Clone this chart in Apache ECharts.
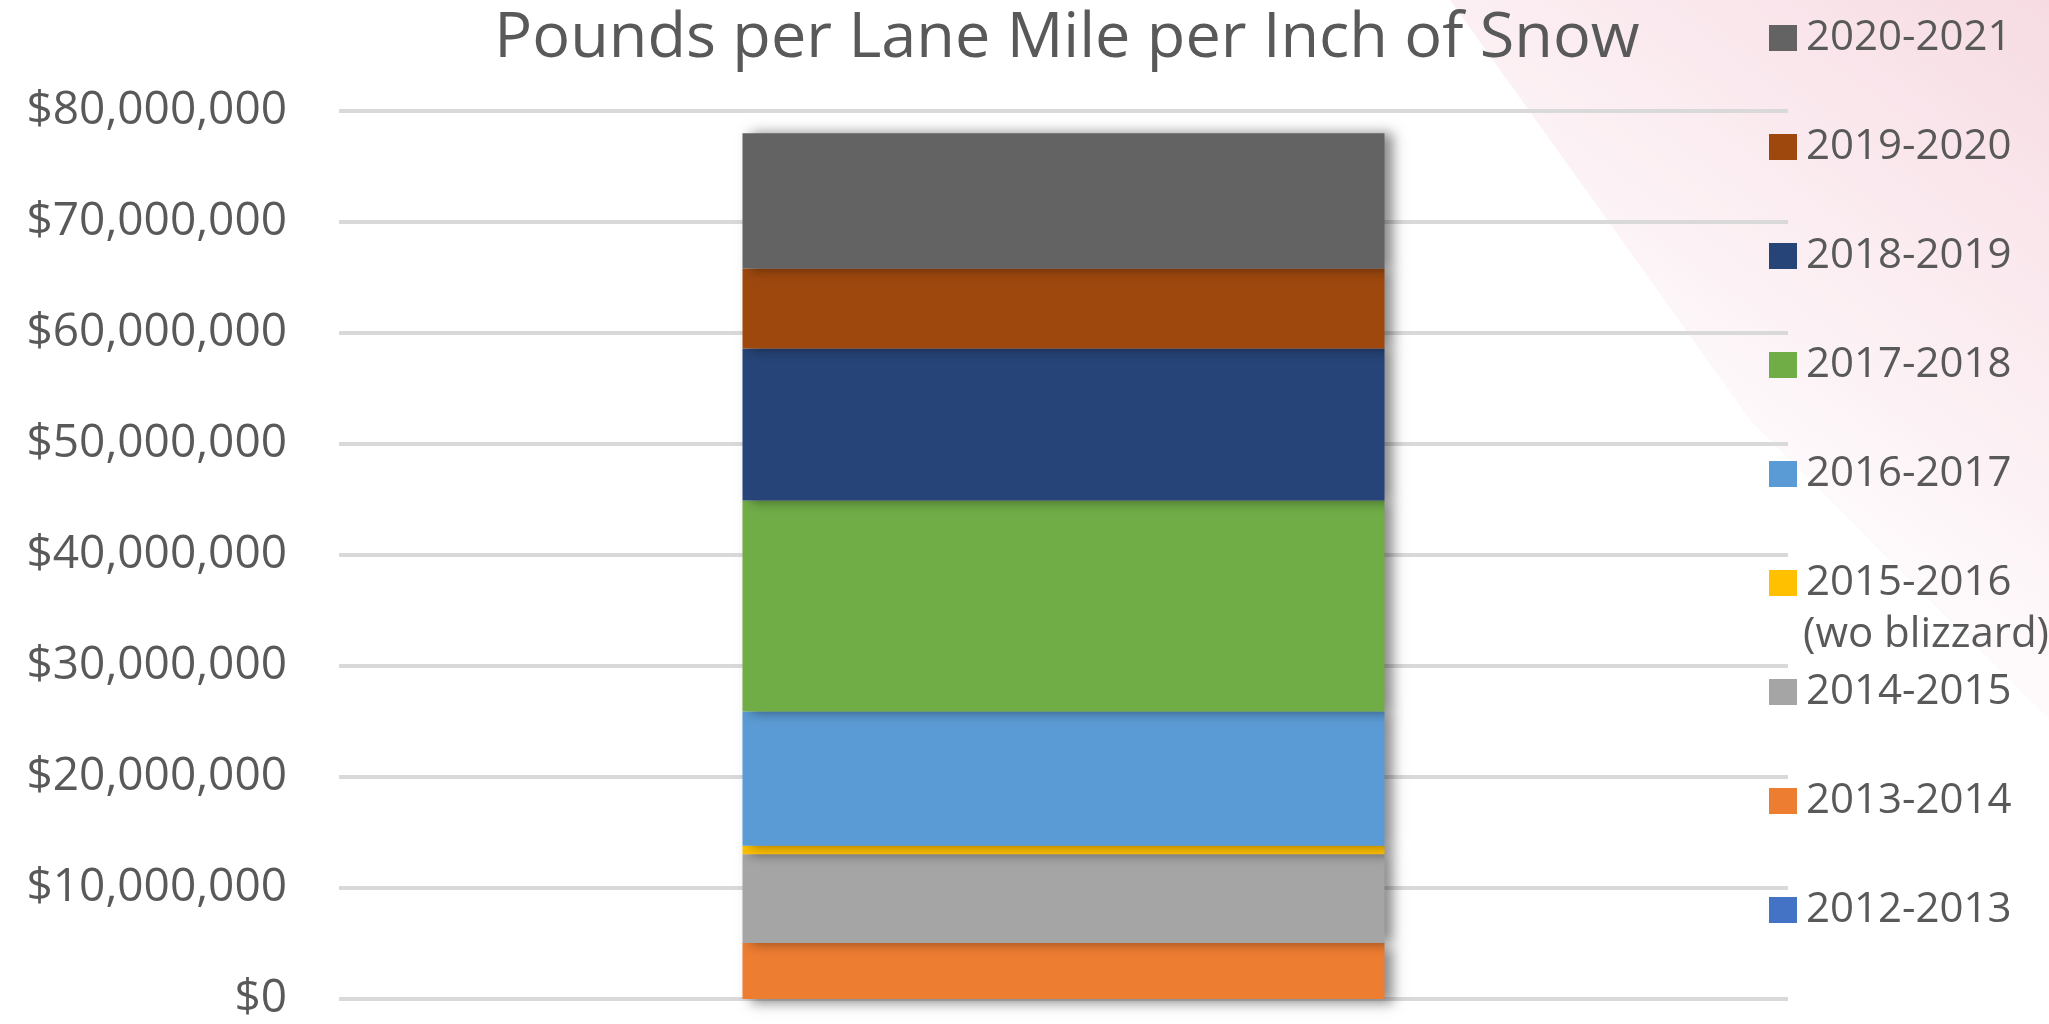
<!DOCTYPE html>
<html>
<head>
<meta charset="utf-8">
<title>Pounds per Lane Mile per Inch of Snow</title>
<script src="https://cdn.jsdelivr.net/npm/echarts@6/dist/echarts.min.js"></script>
<style>
  html, body { margin: 0; padding: 0; background: #fff; }
  #chart { width: 2049px; height: 1024px; }
</style>
</head>
<body>
<div id="chart"></div>
<script>
// seasons, bottom of the stack first
var seasons = ["2012-2013", "2013-2014", "2014-2015", "2015-2016", "2016-2017",
  "2017-2018", "2018-2019", "2019-2020", "2020-2021"];
// amount added by each season
var amounts = [0, 5050000, 8000000, 750000, 12100000, 19000000, 13700000, 7200000, 12200000];
var colors = ["#4472C4", "#ED7D31", "#A5A5A5", "#FFC000", "#5B9BD5",
  "#70AD47", "#264478", "#9E480E", "#636363"];
var category = ["Total"];
var yTicks = { min: 0, max: 80000000, step: 10000000 };

var chart = echarts.init(document.getElementById("chart"));
var font = "'Open Sans', sans-serif";

var series = seasons.map(function (s, i) {
  return {
    name: s,
    type: "bar",
    stack: "all",
    barWidth: 642,
    data: [amounts[i]],
    itemStyle: {
      color: colors[i],
      shadowColor: "rgba(0,0,0,0.45)",
      shadowBlur: 12,
      shadowOffsetX: 8,
      shadowOffsetY: i === 1 ? 4 : 0
    },
    animation: false
  };
});

var option = {
  backgroundColor: "#ffffff",
  title: {
    text: "Pounds per Lane Mile per Inch of Snow",
    left: 1062,
    textAlign: "center",
    top: 3,
    textStyle: { fontFamily: font, fontSize: 63, fontWeight: "normal", color: "#595959" }
  },
  graphic: [
    // faint backdrop tint, top right
    {
      type: "polygon", z: -10, silent: true,
      shape: { points: [[1450, 0], [2049, 0], [2049, 720], [1750, 420]] },
      style: {
        fill: {
          type: "linear", x: 1, y: 0, x2: 0.2, y2: 0.9,
          colorStops: [
            { offset: 0, color: "rgba(215,90,125,0.22)" },
            { offset: 0.5, color: "rgba(225,120,150,0.10)" },
            { offset: 1, color: "rgba(255,255,255,0)" }
          ]
        }
      }
    },
    {
      type: "text", left: 1803, top: 614,
      style: { text: "(wo blizzard)", fontFamily: font, fontSize: 42, fill: "#595959" }
    }
  ],
  legend: {
    orient: "vertical",
    left: 1764,
    top: 11,
    itemGap: 65,
    itemWidth: 28,
    itemHeight: 26,
    icon: "rect",
    data: seasons.slice().reverse(),
    textStyle: { fontFamily: font, fontSize: 42, color: "#595959", lineHeight: 44, padding: [0, 0, 0, 4] }
  },
  grid: { left: 339, right: 261, top: 111, bottom: 25 },
  xAxis: {
    type: "category",
    data: category,
    axisLine: { show: false },
    axisTick: { show: false },
    axisLabel: { show: false }
  },
  yAxis: {
    type: "value",
    min: yTicks.min,
    max: yTicks.max,
    interval: yTicks.step,
    axisLine: { show: false },
    axisTick: { show: false },
    splitLine: { lineStyle: { color: "#d9d9d9", width: 4 } },
    axisLabel: {
      margin: 52,
      fontFamily: font,
      fontSize: 46,
      color: "#595959",
      formatter: function (v) { return "$" + v.toLocaleString("en-US"); }
    }
  },
  series: series
};

chart.setOption(option);
</script>
</body>
</html>
